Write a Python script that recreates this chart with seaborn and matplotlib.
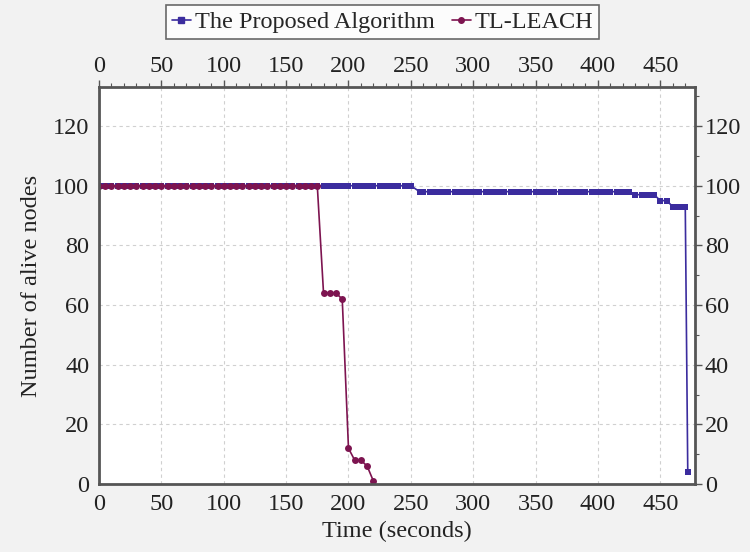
import numpy as np
import pandas as pd
import matplotlib
matplotlib.use("Agg")
import matplotlib.pyplot as plt
import seaborn as sns
from matplotlib.ticker import MultipleLocator
from matplotlib.lines import Line2D

# Data
proposed_time = [0, 5, 10, 15, 20, 25, 30, 35, 40, 45, 50, 55, 60, 65, 70, 75, 80, 85, 90, 95,
                 100, 105, 110, 115, 120, 125, 130, 135, 140, 145, 150, 155, 160, 165, 170, 175,
                 180, 185, 190, 195, 200, 205, 210, 215, 220, 225, 230, 235, 240, 245, 250,
                 257, 260, 265, 270, 275, 280, 285, 290, 295, 300, 305, 310, 315, 320, 325, 330,
                 335, 340, 345, 350, 355, 360, 365, 370, 375, 380, 385, 390, 395, 400, 405, 410,
                 415, 420, 425, 430, 435, 440, 445, 450, 455, 460, 465, 470, 472]
proposed_alive = [100] * 51 + [98] * 35 + [97] * 4 + [95] * 2 + [93] * 3 + [4]

leach_time = [0, 5, 10, 15, 20, 25, 30, 35, 40, 45, 50, 55, 60, 65, 70, 75, 80, 85, 90, 95,
              100, 105, 110, 115, 120, 125, 130, 135, 140, 145, 150, 155, 160, 165, 170, 175,
              180, 185, 190, 195, 200, 205, 210, 215, 220]
leach_alive = [100] * 36 + [64, 64, 64, 62, 12, 8, 8, 6, 1]

series_names = ["The Proposed Algorithm", "TL-LEACH"]
x_ticks = [0, 50, 100, 150, 200, 250, 300, 350, 400, 450]
y_ticks = [0, 20, 40, 60, 80, 100, 120]

df = pd.concat([
    pd.DataFrame({"Time": proposed_time, "Alive": proposed_alive, "Series": series_names[0]}),
    pd.DataFrame({"Time": leach_time, "Alive": leach_alive, "Series": series_names[1]}),
], ignore_index=True)

sns.set_theme(style="white")
plt.rcParams["font.family"] = ["Liberation Serif", "DejaVu Serif"]

fig = plt.figure(figsize=(7.5, 5.52), dpi=100, facecolor="#f2f2f2")
ax = fig.add_axes([0.132, 0.123, 0.795, 0.719])
ax.set_facecolor("white")

palette = {series_names[0]: "#3b2c9e", series_names[1]: "#7d1450"}
marker_map = {series_names[0]: "s", series_names[1]: "o"}
sns.lineplot(data=df, x="Time", y="Alive", hue="Series", style="Series",
             palette=palette, markers=marker_map, dashes=False,
             markersize=5, markeredgewidth=0, linewidth=1.2,
             ax=ax, legend=False)

ax.set_xlim(0, 478)
ax.set_ylim(0, 133)
ax.set_xticks(x_ticks)
ax.set_yticks(y_ticks)
ax.xaxis.set_minor_locator(MultipleLocator(10))
ax.yaxis.set_minor_locator(MultipleLocator(10))
ax.grid(True, which="major", linestyle=(0, (3, 3)), color="#d0d0d0", linewidth=0.8)

ax.tick_params(axis="both", which="major", labelsize=17.5, direction="out", length=5,
               width=1, color="#555555", labelcolor="#222222",
               top=True, right=True, labeltop=True, labelright=True, pad=2)
ax.tick_params(axis="both", which="minor", direction="out", length=3, width=0.8,
               color="#555555", top=True, right=True)
for s in ax.spines.values():
    s.set_color("#555555")
    s.set_linewidth(2)
    s.set_visible(True)

ax.set_xlabel("Time (seconds)", fontsize=17.5, color="#222222", labelpad=4)
ax.set_ylabel("Number of alive nodes", fontsize=17.5, color="#222222", labelpad=8)

handles = [Line2D([0], [0], color=palette[n], marker=marker_map[n],
                  markersize=4, linewidth=1.2) for n in series_names]
leg = fig.legend(handles, ["The Proposed Algorithm", "TL-LEACH"], loc="center",
                 bbox_to_anchor=(0.51, 0.96), ncol=2, fontsize=17.5, frameon=True,
                 fancybox=False, edgecolor="#444444", handlelength=0.8,
                 handletextpad=0.15, columnspacing=0.7, borderpad=0.25)
leg.get_frame().set_linewidth(1.2)
leg.get_frame().set_facecolor("white")

fig.savefig("out.png", dpi=100, facecolor=fig.get_facecolor())
